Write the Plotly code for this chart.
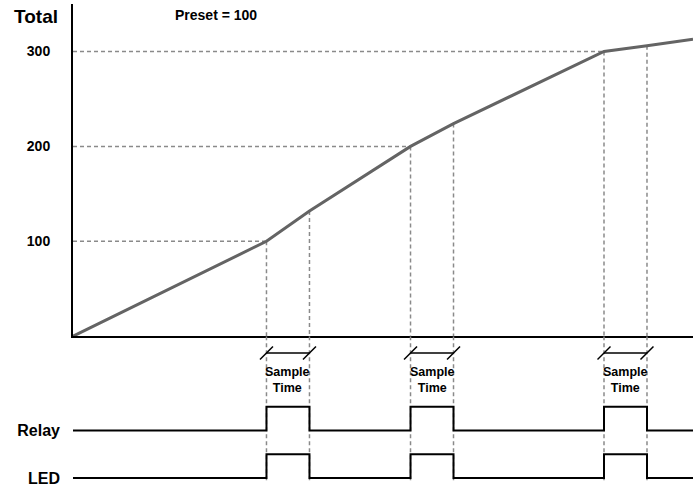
import plotly.graph_objects as go

# time axis in sample-time units, totals in counts
time_pts = [0, 4.5, 5.5, 7.85, 8.85, 12.35, 13.35, 14.42]
totals = [0, 100, 132, 200, 224, 300, 306, 313]

preset = 100
trip_times = [4.5, 7.85, 12.35]
trip_totals = [100, 200, 300]
sample_time = 1.0
after_totals = [132, 224, 306]

y_ticks = [100, 200, 300]
signal_names = ["Relay", "LED"]
signal_low = [2, 0]
signal_high = [3, 1]

FONT = "Liberation Sans, Arial, sans-serif"
DASH = dict(color="#8a8a8a", width=1.5, dash="4px,3px")
Y2_TOP, Y2_BOT = 5.958, -0.208

fig = go.Figure()

# dashed guides
for t, v, v2 in zip(trip_times, trip_totals, after_totals):
    fig.add_trace(go.Scatter(x=[0, t], y=[v, v], mode="lines", line=DASH, yaxis="y"))
    for tx, vy in [(t, v), (t + sample_time, v2)]:
        fig.add_trace(go.Scatter(x=[tx, tx], y=[vy, 0], mode="lines", line=DASH, yaxis="y"))
        fig.add_trace(go.Scatter(x=[tx, tx], y=[Y2_TOP, Y2_BOT], mode="lines", line=DASH, yaxis="y2"))

# running total
fig.add_trace(go.Scatter(x=time_pts, y=totals, mode="lines", line=dict(color="#646464", width=3), yaxis="y"))

# relay / LED pulses
end_t = time_pts[-1]
for lo, hi in zip(signal_low, signal_high):
    xs, ys = [0], [lo]
    for t in trip_times:
        xs += [t, t + sample_time]
        ys += [hi, lo]
    xs.append(end_t)
    ys.append(lo)
    fig.add_trace(go.Scatter(x=xs, y=ys, mode="lines", line=dict(color="black", width=2, shape="hv"), yaxis="y2"))

# sample time markers
for t in trip_times:
    fig.add_trace(go.Scatter(
        x=[t, t + sample_time], y=[5.25, 5.25], mode="lines+markers", yaxis="y2",
        line=dict(color="black", width=1.5),
        marker=dict(symbol="line-ne", size=13, line=dict(color="black", width=1.5)),
    ))
    fig.add_annotation(x=t + sample_time / 2, y=4.12, xref="x", yref="y2", text="Sample<br>Time",
                       showarrow=False, font=dict(family=FONT, size=12.5, color="black", weight="bold"))

fig.add_annotation(x=-0.021, y=0.973, xref="paper", yref="paper", xanchor="right", yanchor="middle",
                   text="Total", showarrow=False,
                   font=dict(family=FONT, size=19, color="black", weight="bold"))
fig.add_annotation(x=3.33, y=0.977, xref="x", yref="paper", yanchor="middle", text=f"Preset = {preset}",
                   showarrow=False, font=dict(family=FONT, size=14, color="black", weight="bold"))

fig.update_layout(
    width=693, height=487, showlegend=False,
    margin=dict(l=73, r=0, t=4, b=0),
    plot_bgcolor="white", paper_bgcolor="white",
    xaxis=dict(range=[0, end_t], showgrid=False, zeroline=False, showticklabels=False,
               showline=True, linecolor="black", linewidth=2, anchor="y"),
    yaxis=dict(domain=[0.3064, 1], range=[0, 350], showgrid=False, zeroline=False,
               showline=True, linecolor="black", linewidth=2,
               tickvals=y_ticks, ticklabelstandoff=18,
               tickfont=dict(family=FONT, size=14, color="black", weight="bold")),
    yaxis2=dict(domain=[0, 0.3064], range=[Y2_BOT, Y2_TOP], showgrid=False, zeroline=False,
                showline=False, anchor="x", tickvals=signal_low, ticktext=signal_names,
                ticklabelstandoff=12, ticklabeloverflow="allow",
                tickfont=dict(family=FONT, size=16, color="black", weight="bold")),
)

# drop the browser's default 8px body margin so the figure sits at the page origin
fig.write_html("out.html", config={"displayModeBar": False},
               post_script="document.body.style.margin='0';document.body.style.overflow='hidden';")
